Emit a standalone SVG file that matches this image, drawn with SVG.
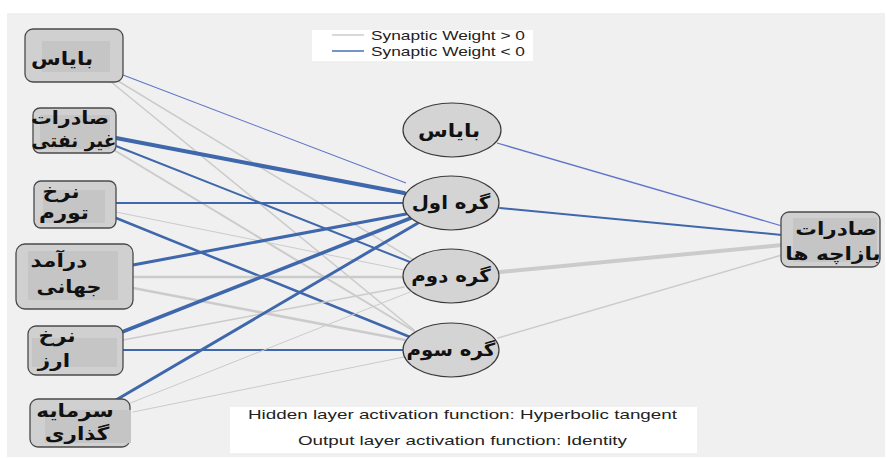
<svg xmlns="http://www.w3.org/2000/svg" width="886" height="458" viewBox="0 0 886 458">
<style>
.bg{fill:#f0f0f0}
.pos{stroke:#cbcbcb;fill:none;stroke-linecap:round}
.neg{stroke:#3f67ab;fill:none;stroke-linecap:round}
.negl{stroke:#5f73c8;fill:none}
.box{fill:#d0d0d0;stroke:#4a4a4a;stroke-width:1.3}
.inner{fill:#c5c5c5}
.ell{fill:#d4d4d4;stroke:#3a3a3a;stroke-width:1.2}
.fa{font-family:"DejaVu Sans","Noto Sans",sans-serif;font-weight:bold;fill:#111;text-anchor:middle}
.en{font-family:"Liberation Sans",Arial,sans-serif;fill:#222}
.panel{fill:#ffffff}
</style>
<rect x="0" y="0" width="886" height="458" fill="#ffffff"/>
<rect class="bg" x="7" y="13" width="878" height="444"/>

<g id="connectors">
<line class="negl" x1="123" y1="75" x2="406" y2="183" stroke-width="1.1"/>
<line class="pos" x1="118" y1="81" x2="412" y2="259" stroke-width="1.5"/>
<line class="pos" x1="110" y1="81" x2="414" y2="330" stroke-width="1.5"/>
<line class="neg" x1="116" y1="138" x2="404" y2="193" stroke-width="4"/>
<line class="neg" x1="116" y1="146" x2="410" y2="262" stroke-width="2"/>
<line class="pos" x1="114" y1="150" x2="414" y2="331" stroke-width="2"/>
<line class="neg" x1="116" y1="203" x2="403" y2="203" stroke-width="2"/>
<line class="pos" x1="116" y1="212" x2="404" y2="270" stroke-width="1"/>
<line class="neg" x1="116" y1="218" x2="410" y2="337" stroke-width="2.5"/>
<line class="neg" x1="133" y1="265" x2="406" y2="214" stroke-width="3"/>
<line class="pos" x1="133" y1="277" x2="403" y2="277" stroke-width="2.5"/>
<line class="pos" x1="133" y1="288" x2="405" y2="340" stroke-width="2.5"/>
<line class="neg" x1="122" y1="332" x2="411" y2="218" stroke-width="3.5"/>
<line class="pos" x1="123" y1="340" x2="404" y2="287" stroke-width="1.5"/>
<line class="neg" x1="123" y1="350" x2="403" y2="350" stroke-width="2"/>
<line class="neg" x1="116" y1="400" x2="418" y2="223" stroke-width="3"/>
<line class="pos" x1="128" y1="404" x2="410" y2="292" stroke-width="1"/>
<line class="pos" x1="133" y1="412" x2="404" y2="357" stroke-width="1"/>
<line class="negl" x1="497" y1="143" x2="782" y2="226" stroke-width="1.3"/>
<line class="neg" x1="500" y1="208" x2="782" y2="235" stroke-width="2"/>
<line class="pos" x1="500" y1="272" x2="782" y2="245" stroke-width="4"/>
<line class="pos" x1="498" y1="338" x2="782" y2="255" stroke-width="1.5"/>
</g>

<g id="legend">
<rect class="panel" x="312" y="30" width="221" height="31"/>
<line x1="332" y1="35" x2="364" y2="35" stroke="#cccccc" stroke-width="1.5"/>
<line x1="332" y1="51" x2="364" y2="51" stroke="#4a6fb5" stroke-width="1.5"/>
<text class="en" x="371" y="40" font-size="13" textLength="154" lengthAdjust="spacingAndGlyphs">Synaptic Weight &gt; 0</text>
<text class="en" x="371" y="56" font-size="13" textLength="154" lengthAdjust="spacingAndGlyphs">Synaptic Weight &lt; 0</text>
</g>

<g id="in-bias">
<rect class="box" x="25" y="29" width="98" height="53" rx="8"/>
<rect class="inner" x="42" y="41" width="68" height="31"/>
<text class="fa" font-size="18" transform="translate(62,65) scale(1.2,1)">بایاس</text>
</g>

<g id="in-nonoil">
<rect class="box" x="33" y="108" width="83" height="45" rx="7"/>
<rect class="inner" x="40" y="115" width="70" height="34"/>
<text class="fa" font-size="18" transform="translate(70,124) scale(1.15,1)">صادرات</text>
<text class="fa" font-size="18" transform="translate(74,147) scale(1.03,1)">غیر نفتی</text>
</g>

<g id="in-inflation">
<rect class="box" x="34" y="181" width="82" height="47" rx="7"/>
<rect class="inner" x="43" y="190" width="62" height="33"/>
<text class="fa" font-size="18" transform="translate(61,198) scale(1.2,1)">نرخ</text>
<text class="fa" font-size="18" transform="translate(64,219) scale(1.2,1)">تورم</text>
</g>

<g id="in-income">
<rect class="box" x="16" y="244" width="117" height="65" rx="9"/>
<rect class="inner" x="28" y="251" width="90" height="49"/>
<text class="fa" font-size="18" transform="translate(59,267) scale(1.2,1)">درآمد</text>
<text class="fa" font-size="18" transform="translate(69,293) scale(1.15,1)">جهانی</text>
</g>

<g id="in-exchange">
<rect class="box" x="28" y="326" width="95" height="49" rx="8"/>
<rect class="inner" x="32" y="338" width="85" height="29"/>
<text class="fa" font-size="18" transform="translate(57,342) scale(1.2,1)">نرخ</text>
<text class="fa" font-size="18" transform="translate(54,367) scale(1.2,1)">ارز</text>
</g>

<g id="in-investment">
<rect class="box" x="30" y="399" width="100" height="48" rx="8"/>
<rect class="inner" x="45" y="410" width="86" height="33"/>
<text class="fa" font-size="18" transform="translate(75,417) scale(1.2,1)">سرمایه</text>
<text class="fa" font-size="18" transform="translate(77,440) scale(1.2,1)">گذاری</text>
</g>

<g id="hid-bias">
<ellipse class="ell" cx="452" cy="130" rx="49" ry="27"/>
<text class="fa" font-size="18" transform="translate(449,137) scale(1.2,1)">بایاس</text>
</g>
<g id="hid-1">
<ellipse class="ell" cx="451" cy="203" rx="48" ry="27"/>
<text class="fa" font-size="18" transform="translate(451,209) scale(1.1,1)">گره اول</text>
</g>
<g id="hid-2">
<ellipse class="ell" cx="451" cy="276" rx="48" ry="27"/>
<text class="fa" font-size="18" transform="translate(451,282) scale(1.1,1)">گره دوم</text>
</g>
<g id="hid-3">
<ellipse class="ell" cx="451" cy="350" rx="48" ry="27"/>
<text class="fa" font-size="18" transform="translate(451,356) scale(1.1,1)">گره سوم</text>
</g>

<g id="out">
<rect class="box" x="781" y="212" width="99" height="55" rx="8"/>
<rect class="inner" x="793" y="218" width="84" height="44"/>
<text class="fa" font-size="18" transform="translate(836,235) scale(1.2,1)">صادرات</text>
<text class="fa" font-size="18" transform="translate(833,260) scale(1.2,1)">بازاچه ها</text>
</g>

<g id="footer">
<rect class="panel" x="230" y="407" width="467" height="46"/>
<text class="en" x="248" y="419" font-size="13" textLength="429" lengthAdjust="spacingAndGlyphs">Hidden layer activation function: Hyperbolic tangent</text>
<text class="en" x="298" y="445" font-size="13" textLength="329" lengthAdjust="spacingAndGlyphs">Output layer activation function: Identity</text>
</g>
</svg>
